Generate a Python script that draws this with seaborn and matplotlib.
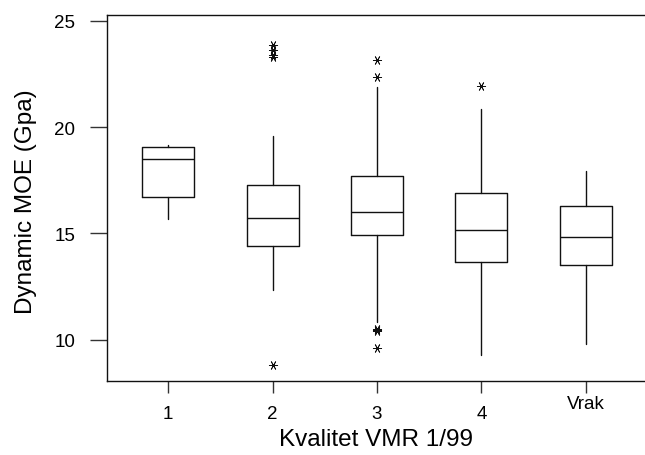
import matplotlib
matplotlib.use("Agg")
import matplotlib.pyplot as plt
import matplotlib.transforms as mtransforms
import seaborn as sns

# ---- data ----
categories = ["1", "2", "3", "4", "Vrak"]
whisker_low = [15.69, 12.32, 10.83, 9.26, 9.81]
q1 = [16.71, 14.41, 14.94, 13.64, 13.53]
median = [18.50, 15.74, 16.01, 15.14, 14.83]
q3 = [19.09, 17.30, 17.70, 16.91, 16.29]
whisker_high = [19.17, 19.58, 21.88, 20.86, 17.93]
outliers = [
    [],
    [8.83, 23.30, 23.42, 23.62, 23.88],
    [9.63, 10.42, 10.47, 10.52, 22.37, 23.17],
    [21.93],
    [],
]

sns.set_style("ticks")
plt.rcParams["font.family"] = ["Liberation Sans", "DejaVu Sans"]

fig = plt.figure(figsize=(6.45, 4.56), dpi=100)
ax = fig.add_axes([0.1654, 0.1629, 0.8346, 0.8020])

stats = []
for i, c in enumerate(categories):
    stats.append(dict(label=c, whislo=whisker_low[i], q1=q1[i], med=median[i],
                      q3=q3[i], whishi=whisker_high[i], fliers=outliers[i]))

lc = "#111111"
ax.bxp(stats, positions=range(len(categories)), widths=0.5, showcaps=False,
       boxprops=dict(color=lc, linewidth=1.0),
       whiskerprops=dict(color=lc, linewidth=1.0),
       medianprops=dict(color=lc, linewidth=1.0),
       flierprops=dict(marker=(6, 2, 90), markersize=6.5, markeredgewidth=0.6,
                       markeredgecolor=lc, markerfacecolor=lc, linestyle="none"))

ax.set_xlim(-0.590, 4.568)
ax.set_ylim(8.07, 25.28)
ax.set_yticks([10, 15, 20, 25])
ax.set_xticks(range(len(categories)))
ax.set_xticklabels(categories)

for s in ["top", "left", "bottom"]:
    ax.spines[s].set_color(lc)
    ax.spines[s].set_linewidth(1.0)
ax.spines["right"].set_visible(False)

ax.tick_params(axis="y", direction="out", length=12.2, width=1.0, color="#333333",
               pad=10.5, labelsize=13.5, labelcolor="black")
ax.tick_params(axis="x", direction="out", length=8.3, width=1.0, color="#333333",
               pad=9.0, labelsize=13.5, labelcolor="black")

# 'Vrak' label sits a little higher in the reference
lab = ax.get_xticklabels()[-1]
lab.set_transform(lab.get_transform() + mtransforms.ScaledTranslation(0, 0.10, fig.dpi_scale_trans))

ax.set_xlabel("Kvalitet VMR 1/99", fontsize=17.5, color="black")
ax.set_ylabel("Dynamic MOE (Gpa)", fontsize=17.5, color="black")
ax.xaxis.set_label_coords(0.501, -0.128)
ax.yaxis.set_label_coords(-0.129, 0.493)

ax.grid(False)
fig.savefig("out.png", dpi=100)
